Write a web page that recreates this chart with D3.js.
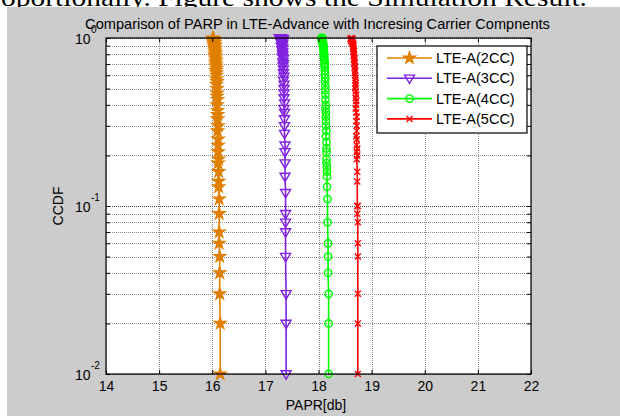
<!DOCTYPE html>
<html><head><meta charset="utf-8">
<script src="https://cdn.jsdelivr.net/npm/d3@7"></script>
<style>
html,body{margin:0;padding:0;background:#fff;}
svg{display:block;}
text{font-family:Arial,"Liberation Sans",sans-serif;fill:#000;}
</style></head><body>
<svg id="chart" width="620" height="416"></svg>
<script>
// ---- data ----
const pageText = "oportionally. Figure shows the Simulation Result.";
const titleText = "Comparison of PARP in LTE-Advance with Incresing Carrier Compnents";
const xLabel = "PAPR[db]";
const yLabel = "CCDF";
const xTicks = [14, 15, 16, 17, 18, 19, 20, 21, 22];
const yMajor = [0.01, 0.1, 1];
const yExponents = ["-2", "-1", "0"];
const yMinor = [0.02, 0.03, 0.04, 0.05, 0.06, 0.07, 0.08, 0.09, 0.2, 0.3, 0.4, 0.5, 0.6, 0.7, 0.8, 0.9];
const seriesNames = ["LTE-A(2CC)", "LTE-A(3CC)", "LTE-A(4CC)", "LTE-A(5CC)"];
const seriesColors = ["#e07f00", "#8020e0", "#00ff00", "#ff0000"];
const seriesMarkers = ["star", "triangleDown", "circle", "cross"];

// [PAPR (dB), CCDF]
const lte2cc = [[16.01,1.00],[16.02,0.99],[16.02,0.98],[16.03,0.97],[16.02,0.96],[16.03,0.95],[16.04,0.94],[16.03,0.93],
  [16.04,0.91],[16.05,0.90],[16.04,0.88],[16.05,0.86],[16.05,0.84],[16.06,0.82],[16.05,0.80],[16.06,0.78],[16.06,0.76],
  [16.07,0.74],[16.06,0.72],[16.07,0.70],[16.07,0.68],[16.08,0.66],[16.07,0.64],[16.08,0.62],[16.08,0.60],[16.08,0.57],
  [16.09,0.55],[16.08,0.53],[16.09,0.50],[16.09,0.47],[16.09,0.45],[16.10,0.43],[16.09,0.40],[16.10,0.37],[16.10,0.35],
  [16.10,0.33],[16.11,0.30],[16.10,0.28],[16.11,0.25],[16.11,0.23],[16.11,0.21],[16.12,0.19],[16.11,0.18],[16.12,0.16],
  [16.12,0.14],[16.12,0.13],[16.13,0.11],[16.13,0.09],[16.13,0.07],[16.13,0.06],[16.14,0.05],[16.14,0.04],[16.14,0.03],
  [16.15,0.02],[16.15,0.01]];
const lte3cc = [[17.30,1.00],[17.26,1.00],[17.34,0.99],[17.28,0.98],[17.33,0.97],[17.30,0.96],[17.32,0.95],[17.29,0.94],
  [17.33,0.93],[17.31,0.92],[17.32,0.90],[17.30,0.89],[17.33,0.87],[17.31,0.85],[17.33,0.83],[17.32,0.81],[17.33,0.79],
  [17.32,0.77],[17.34,0.75],[17.33,0.72],[17.34,0.70],[17.33,0.68],[17.34,0.65],[17.34,0.62],[17.35,0.59],[17.34,0.56],
  [17.35,0.53],[17.35,0.50],[17.35,0.47],[17.35,0.44],[17.36,0.41],[17.35,0.38],[17.36,0.36],[17.36,0.33],[17.36,0.30],
  [17.36,0.27],[17.37,0.23],[17.37,0.21],[17.37,0.18],[17.37,0.15],[17.38,0.12],[17.38,0.09],[17.38,0.08],[17.38,0.07],
  [17.38,0.05],[17.39,0.03],[17.39,0.02],[17.39,0.01]];
const lte4cc = [[18.05,1.00],[18.08,1.00],[18.06,0.99],[18.07,0.98],[18.06,0.97],[18.08,0.96],[18.07,0.95],[18.08,0.94],
  [18.09,0.93],[18.08,0.91],[18.09,0.90],[18.10,0.88],[18.09,0.86],[18.10,0.84],[18.10,0.82],[18.11,0.80],[18.10,0.78],
  [18.11,0.76],[18.11,0.74],[18.12,0.71],[18.11,0.69],[18.12,0.67],[18.12,0.64],[18.12,0.61],[18.13,0.58],[18.12,0.55],
  [18.13,0.52],[18.13,0.49],[18.13,0.46],[18.13,0.43],[18.14,0.40],[18.13,0.38],[18.14,0.36],[18.14,0.34],[18.14,0.32],
  [18.14,0.30],[18.15,0.28],[18.14,0.26],[18.15,0.24],[18.15,0.22],[18.15,0.21],[18.15,0.19],[18.15,0.18],[18.16,0.17],
  [18.16,0.16],[18.16,0.15],[18.16,0.13],[18.17,0.11],[18.17,0.08],[18.18,0.06],[18.18,0.05],[18.18,0.04],[18.19,0.03],
  [18.19,0.02],[18.19,0.01]];
const lte5cc = [[18.62,1.00],[18.60,0.99],[18.64,0.99],[18.62,0.98],[18.63,0.97],[18.61,0.96],[18.64,0.95],[18.63,0.94],
  [18.65,0.93],[18.64,0.92],[18.66,0.91],[18.65,0.89],[18.66,0.88],[18.65,0.86],[18.67,0.84],[18.66,0.82],[18.67,0.80],
  [18.66,0.78],[18.68,0.76],[18.67,0.74],[18.68,0.72],[18.67,0.70],[18.69,0.68],[18.68,0.66],[18.69,0.64],[18.68,0.62],
  [18.69,0.60],[18.70,0.58],[18.69,0.56],[18.70,0.54],[18.70,0.52],[18.69,0.50],[18.70,0.48],[18.71,0.46],[18.70,0.44],
  [18.71,0.42],[18.71,0.40],[18.70,0.38],[18.71,0.36],[18.72,0.34],[18.71,0.32],[18.72,0.30],[18.72,0.28],[18.71,0.26],
  [18.72,0.25],[18.72,0.23],[18.73,0.22],[18.72,0.21],[18.73,0.20],[18.72,0.19],[18.73,0.16],[18.73,0.14],[18.73,0.10],
  [18.74,0.10],[18.73,0.09],[18.74,0.08],[18.74,0.06],[18.74,0.05],[18.74,0.03],[18.74,0.02],[18.74,0.01]];
const seriesData = [lte2cc, lte3cc, lte4cc, lte5cc];

// ---- layout ----
const svg = d3.select("#chart");
const plot = {left: 106, right: 531, top: 38, bottom: 374};

const x = d3.scaleLinear().domain([14, 22]).range([plot.left, plot.right]);
const y = d3.scaleLog().domain([0.01, 1]).range([plot.bottom, plot.top]);

// page text behind the figure, then the grey figure background
svg.append("text").attr("x", 1).attr("y", 6)
  .attr("textLength", 586).attr("lengthAdjust", "spacingAndGlyphs")
  .style("font-family", "'Liberation Serif','Times New Roman',serif")
  .style("font-size", "25px").text(pageText);
svg.append("rect").attr("x", 7).attr("y", 7).attr("width", 613).attr("height", 409).attr("fill", "#cccccc");

// axes background
svg.append("rect").attr("x", plot.left).attr("y", plot.top)
  .attr("width", plot.right - plot.left).attr("height", plot.bottom - plot.top).attr("fill", "#fff");

// grid
const grid = svg.append("g").attr("class", "grid");
grid.selectAll("line.gy").data(yMajor.concat(yMinor)).join("line")
  .attr("x1", plot.left).attr("x2", plot.right)
  .attr("y1", d => Math.round(y(d)) + 0.5).attr("y2", d => Math.round(y(d)) + 0.5)
  .attr("stroke", d => yMajor.includes(d) ? "#444" : "#8c8c8c").attr("stroke-width", 1)
  .attr("stroke-dasharray", "1,1");
grid.selectAll("line.gx").data(xTicks).join("line")
  .attr("y1", plot.top).attr("y2", plot.bottom)
  .attr("x1", d => Math.round(x(d)) + 0.5).attr("x2", d => Math.round(x(d)) + 0.5)
  .attr("stroke", "#8c8c8c").attr("stroke-width", 1).attr("stroke-dasharray", "1,1");

// markers
function markerPath(kind) {
  const p = d3.path();
  if (kind === "star") {
    return d3.symbol(d3.symbolStar, 42)();
  } else if (kind === "triangleDown") {
    const h = 4.2, w = 5;
    p.moveTo(-w, -h + 1); p.lineTo(w, -h + 1); p.lineTo(0, h + 1); p.closePath();
  } else if (kind === "circle") {
    p.arc(0, 0, 3.7, 0, 2 * Math.PI);
  } else {
    const r = 3;
    p.moveTo(-r, -r); p.lineTo(r, r); p.moveTo(r, -r); p.lineTo(-r, r);
  }
  return p.toString();
}

const line = d3.line().x(d => x(d[0])).y(d => y(d[1]));

seriesData.forEach((data, i) => {
  const g = svg.append("g").attr("class", "series");
  g.append("path").datum(data).attr("d", line)
    .attr("fill", "none").attr("stroke", seriesColors[i]).attr("stroke-width", 1.6);
  const mp = markerPath(seriesMarkers[i]);
  g.selectAll("path.m").data(data).join("path").attr("class", "m")
    .attr("transform", d => `translate(${x(d[0])},${y(d[1])})`)
    .attr("d", mp)
    .attr("fill", seriesMarkers[i] === "star" ? seriesColors[i] : "none")
    .attr("stroke", seriesColors[i]).attr("stroke-width", 1.4);
});

// axes (ticks point inward, box on all sides)
const axisG = svg.append("g").attr("class", "axes");
const xb = axisG.append("g").attr("transform", `translate(0,${plot.bottom})`)
  .call(d3.axisBottom(x).tickValues(xTicks).tickSizeInner(-4).tickSizeOuter(0).tickPadding(7).tickFormat(d3.format("d")));
xb.selectAll("text").style("font-size", "14px");
const xt = axisG.append("g").attr("transform", `translate(0,${plot.top})`)
  .call(d3.axisTop(x).tickValues(xTicks).tickSizeInner(-4).tickSizeOuter(0).tickFormat(() => ""));
const yl = axisG.append("g").attr("transform", `translate(${plot.left},0)`)
  .call(d3.axisLeft(y).tickValues(yMajor.concat(yMinor)).tickSizeInner(-4).tickSizeOuter(0).tickFormat(() => ""));
const yr = axisG.append("g").attr("transform", `translate(${plot.right},0)`)
  .call(d3.axisRight(y).tickValues(yMajor.concat(yMinor)).tickSizeInner(-4).tickSizeOuter(0).tickFormat(() => ""));
axisG.selectAll(".domain").remove();
axisG.selectAll(".tick line").attr("stroke", "#000");
axisG.append("rect").attr("x", plot.left).attr("y", plot.top)
  .attr("width", plot.right - plot.left).attr("height", plot.bottom - plot.top)
  .attr("fill", "none").attr("stroke", "#000").attr("stroke-width", 1.2);

// y tick labels as 10 with superscript exponent
const yLab = svg.append("g").attr("class", "ylabels");
yMajor.forEach((v, i) => {
  const yy = y(v);
  yLab.append("text").attr("x", 90.5).attr("y", yy + 5.5).attr("text-anchor", "end")
    .style("font-size", "14px").text("10");
  yLab.append("text").attr("x", 91).attr("y", yy - 5).attr("text-anchor", "start")
    .style("font-size", "10px").text(yExponents[i]);
});

// labels and title
svg.append("text").attr("x", (plot.left + plot.right) / 2 - 1).attr("y", 29).attr("text-anchor", "middle")
  .style("font-size", "14.6px").text(titleText);
svg.append("text").attr("x", 316).attr("y", 410).attr("text-anchor", "middle")
  .style("font-size", "14px").text(xLabel);
svg.append("text").attr("transform", "translate(63,206) rotate(-90)").attr("text-anchor", "middle")
  .style("font-size", "14px").text(yLabel);

// legend
const lg = svg.append("g").attr("class", "legend");
lg.append("rect").attr("x", 377).attr("y", 46).attr("width", 150).attr("height", 87)
  .attr("fill", "#fff").attr("stroke", "#000").attr("stroke-width", 1.2);
seriesNames.forEach((name, i) => {
  const ly = 58 + i * 20.3;
  lg.append("line").attr("x1", 387).attr("x2", 432).attr("y1", ly).attr("y2", ly)
    .attr("stroke", seriesColors[i]).attr("stroke-width", 1.6);
  lg.append("path").attr("transform", `translate(409.5,${ly})`).attr("d", markerPath(seriesMarkers[i]))
    .attr("fill", seriesMarkers[i] === "star" ? seriesColors[i] : "none")
    .attr("stroke", seriesColors[i]).attr("stroke-width", 1.4);
  lg.append("text").attr("x", 436).attr("y", ly + 5).style("font-size", "14.5px").text(name);
});
</script>
</body></html>
